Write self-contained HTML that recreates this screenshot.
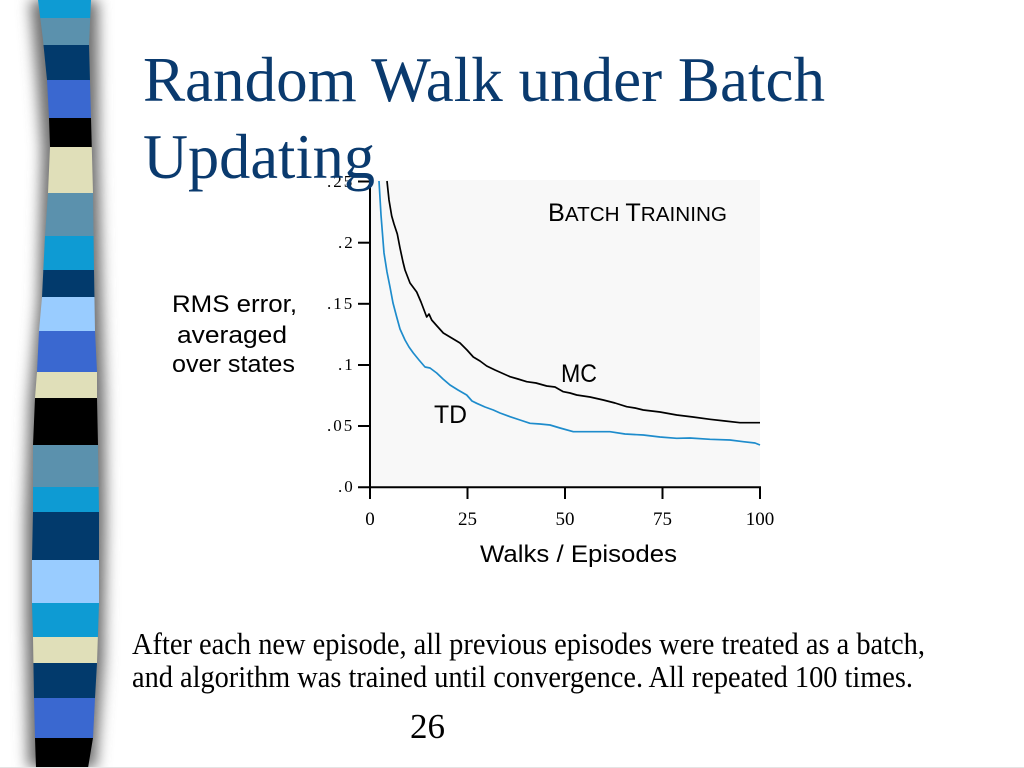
<!DOCTYPE html>
<html>
<head>
<meta charset="utf-8">
<style>
  html, body { margin: 0; padding: 0; background: #ffffff; }
  body { width: 1024px; height: 768px; overflow: hidden; }
  svg { display: block; }
</style>
</head>
<body>
<svg width="1024" height="768" viewBox="0 0 1024 768" xmlns="http://www.w3.org/2000/svg">
  <defs>
    <filter id="blur" x="-50%" y="-10%" width="200%" height="120%">
      <feGaussianBlur stdDeviation="7"/>
    </filter>
    <clipPath id="strip">
      <path d="M38,0 L43,40 L47,80 L49,118 L50,147 L48,193 L45,236 L42,297 L39,331 L37,372 L35,398 L33,445 L33,512 L32,560 L32,603 L33,637 L34,698 L35,738 L36,768 L88,768 L93,738 L95,698 L97,663 L99,603 L99,512 L98,445 L97,398 L97,372 L95,331 L94,270 L93,193 L91,118 L89,45 L91,0 Z"/>
    </clipPath>
  </defs>

  <rect x="0" y="0" width="1024" height="768" fill="#ffffff"/>

  <!-- shadow behind strip -->
  <path d="M30,0 L37,80 L42,150 L38,300 L29,400 L25,520 L25,620 L28,768 L96,768 L104,660 L106,520 L105,400 L102,300 L99,150 L98,0 Z" fill="#6e6e6e" filter="url(#blur)"/>

  <!-- decorative strip -->
  <g clip-path="url(#strip)">
    <rect x="20" y="0" width="90" height="19" fill="#0e9bd3"/>
    <rect x="20" y="18" width="90" height="28" fill="#5b91ad"/>
    <rect x="20" y="45" width="90" height="36" fill="#023a6c"/>
    <rect x="20" y="80" width="90" height="39" fill="#3a68d0"/>
    <rect x="20" y="118" width="90" height="30" fill="#000000"/>
    <rect x="20" y="147" width="90" height="47" fill="#e0dfb9"/>
    <rect x="20" y="193" width="90" height="44" fill="#5b91ad"/>
    <rect x="20" y="236" width="90" height="35" fill="#0e9bd3"/>
    <rect x="20" y="270" width="90" height="28" fill="#023a6c"/>
    <rect x="20" y="297" width="90" height="35" fill="#99ccff"/>
    <rect x="20" y="331" width="90" height="42" fill="#3a68d0"/>
    <rect x="20" y="372" width="90" height="27" fill="#e0dfb9"/>
    <rect x="20" y="398" width="90" height="48" fill="#000000"/>
    <rect x="20" y="445" width="90" height="43" fill="#5b91ad"/>
    <rect x="20" y="487" width="90" height="26" fill="#0e9bd3"/>
    <rect x="20" y="512" width="90" height="49" fill="#023a6c"/>
    <rect x="20" y="560" width="90" height="44" fill="#99ccff"/>
    <rect x="20" y="603" width="90" height="35" fill="#0e9bd3"/>
    <rect x="20" y="637" width="90" height="27" fill="#e0dfb9"/>
    <rect x="20" y="663" width="90" height="36" fill="#023a6c"/>
    <rect x="20" y="698" width="90" height="41" fill="#3a68d0"/>
    <rect x="20" y="738" width="90" height="30" fill="#000000"/>
  </g>

  <!-- chart background -->
  <rect x="371" y="180" width="389" height="307" fill="#f8f8f8"/>

  <!-- curves -->
  <polyline fill="none" stroke="#000000" stroke-width="1.7" stroke-linejoin="round"
    points="387,181 389,200 391.7,216 394,224 397.3,234 400,248 403,262 405,270 410,283 416.7,292 421,302 426.7,317 429,314 431.7,320 437,326 443.3,333 450,337 460,343 467,350 473.3,357 480,361 486.7,366 495,370 510,376.7 518,379 526.7,381.7 536,383 546.7,386 555,387 563.3,391.7 570,393 576.7,395 590,397 603.3,400 615,403 626.7,406.7 635,408 643.3,410 660,412 676.7,415 693,417 710,419.3 725,421 740,422.7 760,422.7"/>
  <polyline fill="none" stroke="#1e8ccc" stroke-width="1.7" stroke-linejoin="round"
    points="379,181 381,215 384,253 387,272 390,287 393,303 396.7,317 400,329 405,340 409,347 413.3,353 419,360 425,367 430,368 436.7,373 443,379 450,385 458,390 466.7,395 472,401 476.7,403.3 485,407 493.3,410 500,413 510,416.7 520,420 530,423.3 540,424 550,425 560,428 573.3,431.7 590,431.7 610,431.7 625,434 643.3,435 660,437 676.7,438.3 690,438 710,439.3 730,440 743.3,441.7 755,443 760,445"/>

  <!-- axes -->
  <g stroke="#000" stroke-width="2" fill="none">
    <line x1="370" y1="180" x2="370" y2="488"/>
    <line x1="358" y1="487.3" x2="761" y2="487.3"/>
    <line x1="358" y1="181.5" x2="370" y2="181.5"/>
    <line x1="358" y1="242.7" x2="370" y2="242.7"/>
    <line x1="358" y1="303.8" x2="370" y2="303.8"/>
    <line x1="358" y1="365" x2="370" y2="365"/>
    <line x1="358" y1="426" x2="370" y2="426"/>
    <line x1="370" y1="487" x2="370" y2="499"/>
    <line x1="467.5" y1="487" x2="467.5" y2="499"/>
    <line x1="565" y1="487" x2="565" y2="499"/>
    <line x1="662.5" y1="487" x2="662.5" y2="499"/>
    <line x1="760" y1="487" x2="760" y2="499"/>
  </g>

  <!-- y tick labels -->
  <g font-family="'Liberation Serif', serif" font-size="17" fill="#000" letter-spacing="2">
    <text x="327" y="187">.25</text>
    <text x="338" y="248">.2</text>
    <text x="327" y="309">.15</text>
    <text x="338" y="370">.1</text>
    <text x="327" y="431">.05</text>
    <text x="338" y="492">.0</text>
  </g>

  <!-- x tick labels -->
  <g font-family="'Liberation Serif', serif" font-size="19" fill="#000" text-anchor="middle">
    <text x="370" y="525">0</text>
    <text x="467.5" y="525">25</text>
    <text x="565" y="525">50</text>
    <text x="662.5" y="525">75</text>
    <text x="760" y="525">100</text>
  </g>

  <!-- chart labels -->
  <g font-family="'Liberation Sans', Arial, sans-serif" fill="#000">
    <text x="548" y="221" textLength="179" lengthAdjust="spacingAndGlyphs"><tspan font-size="25">B</tspan><tspan font-size="20.5">ATCH </tspan><tspan font-size="25">T</tspan><tspan font-size="20.5">RAINING</tspan></text>
    <text x="561" y="382" font-size="25" textLength="36" lengthAdjust="spacingAndGlyphs">MC</text>
    <text x="434" y="423" font-size="25" textLength="33" lengthAdjust="spacingAndGlyphs">TD</text>
    <text x="172" y="312" font-size="24" textLength="125" lengthAdjust="spacingAndGlyphs">RMS error,</text>
    <text x="177" y="343" font-size="24" textLength="110" lengthAdjust="spacingAndGlyphs">averaged</text>
    <text x="172" y="372" font-size="24" textLength="123" lengthAdjust="spacingAndGlyphs">over states</text>
    <text x="480" y="562" font-size="24" textLength="197" lengthAdjust="spacingAndGlyphs">Walks / Episodes</text>
  </g>

  <!-- title -->
  <g font-family="'Liberation Serif', serif" font-size="63" fill="#0a3a6e">
    <text x="143" y="101" textLength="682" lengthAdjust="spacingAndGlyphs">Random Walk under Batch</text>
    <text x="143" y="178" textLength="232" lengthAdjust="spacingAndGlyphs">Updating</text>
  </g>

  <!-- body text -->
  <g font-family="'Liberation Serif', serif" fill="#000">
    <text x="132" y="654" font-size="31" textLength="793" lengthAdjust="spacingAndGlyphs">After each new episode, all previous episodes were treated as a batch,</text>
    <text x="132" y="687" font-size="31" textLength="781" lengthAdjust="spacingAndGlyphs">and algorithm was trained until convergence. All repeated 100 times.</text>
    <text x="410" y="738" font-size="35" textLength="35" lengthAdjust="spacingAndGlyphs">26</text>
  </g>

  <line x1="0" y1="767.5" x2="1024" y2="767.5" stroke="#e4e4e4" stroke-width="1"/>
</svg>
</body>
</html>
